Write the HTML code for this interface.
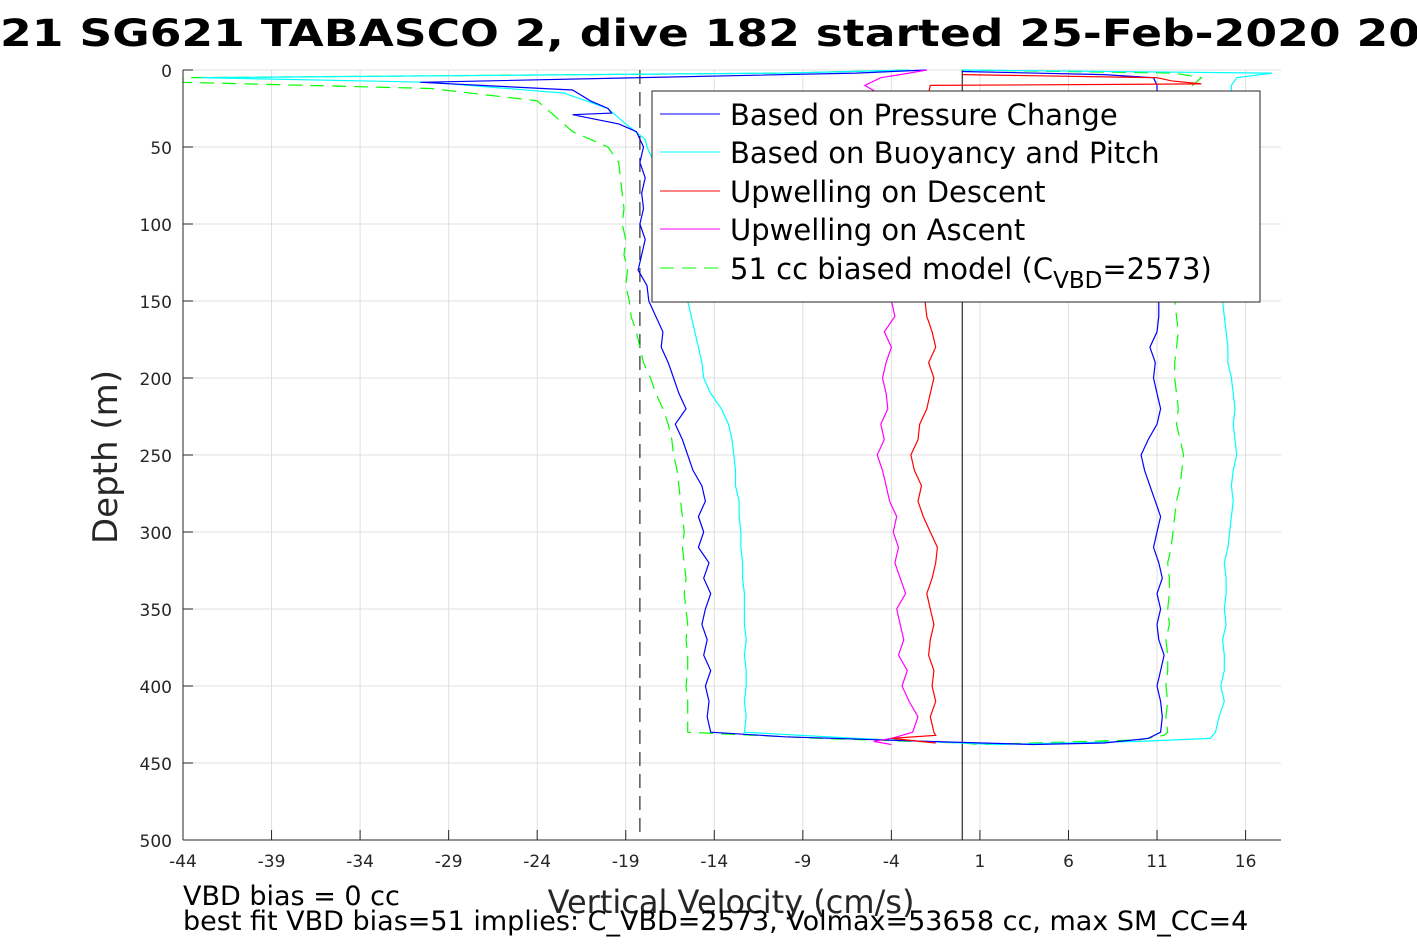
<!DOCTYPE html>
<html><head><meta charset="utf-8"><style>
body{margin:0;background:#fff;width:1417px;height:945px;overflow:hidden}
svg{font-family:"DejaVu Sans","Liberation Sans",sans-serif}
</style></head><body>
<svg id="chart" width="1417" height="945" viewBox="0 0 1417 945" xmlns="http://www.w3.org/2000/svg">
<text x="0" y="46" font-size="37" font-weight="bold" textLength="1420" lengthAdjust="spacingAndGlyphs">21 SG621 TABASCO 2, dive 182 started 25-Feb-2020 20</text>
<rect x="183" y="70" width="1098" height="770" fill="#fff"/>
<g id="grid"></g>
<g id="series"></g>
<g id="axes"></g>
<text transform="translate(117,457) rotate(-90)" text-anchor="middle" font-size="34" fill="#262626">Depth (m)</text>
<text x="731" y="913" text-anchor="middle" font-size="32" fill="#262626">Vertical Velocity (cm/s)</text>
<text x="183" y="905" font-size="27" fill="#000">VBD bias = 0 cc</text>
<text x="183" y="930" font-size="27" fill="#000">best fit VBD bias=51 implies: C_VBD=2573, Volmax=53658 cc, max SM_CC=4</text>
<g>
<rect x="652" y="91" width="608" height="211" fill="#fff" stroke="#262626" stroke-width="1"/>
<line x1="660" y1="114" x2="720" y2="114" stroke="#0000ff"/>
<text x="730" y="125" font-size="29">Based on Pressure Change</text>
<line x1="660" y1="152" x2="720" y2="152" stroke="#00ffff"/>
<text x="730" y="163" font-size="29">Based on Buoyancy and Pitch</text>
<line x1="660" y1="191" x2="720" y2="191" stroke="#ff0000"/>
<text x="730" y="202" font-size="29">Upwelling on Descent</text>
<line x1="660" y1="229" x2="720" y2="229" stroke="#ff00ff"/>
<text x="730" y="240" font-size="29">Upwelling on Ascent</text>
<line x1="660" y1="268" x2="720" y2="268" stroke="#00ff00" stroke-dasharray="14,8"/>
<text x="730" y="279" font-size="29">51 cc biased model (C<tspan font-size="23" dy="9">VBD</tspan><tspan dy="-9">=2573)</tspan></text>
</g>
</svg>
<script>
const xTicks=[-44,-39,-34,-29,-24,-19,-14,-9,-4,1,6,11,16];
const yTicks=[0,50,100,150,200,250,300,350,400,450,500];
const body=[];for(let d=50;d<=430;d+=10)body.push(d);
const bodyAsc=[];for(let d=430;d>=150;d-=10)bodyAsc.push(d);
const blueDesc=[-18,-18.2,-17.9,-18.1,-18,-18.2,-17.9,-18.1,-18.3,-17.8,-17.7,-17.3,-16.9,-17,-16.6,-16.3,-16,-15.6,-16.2,-15.8,-15.5,-15.2,-14.7,-14.5,-14.9,-14.6,-14.9,-14.3,-14.6,-14.2,-14.5,-14.7,-14.4,-14.6,-14.2,-14.5,-14.3,-14.4,-14.2];
const cyanDesc=[-17.8,-17.4,-17.2,-17,-16.8,-16.6,-16.3,-16,-15.8,-15.6,-15.5,-15.3,-15.1,-14.9,-14.7,-14.6,-14.2,-13.6,-13.2,-13,-12.9,-12.8,-12.8,-12.6,-12.6,-12.5,-12.5,-12.4,-12.4,-12.3,-12.3,-12.3,-12.2,-12.3,-12.2,-12.2,-12.3,-12.2,-12.3];
const greenDesc=[-20,-19.4,-19.3,-19.2,-19.1,-19.2,-19,-19.1,-18.9,-19,-18.8,-18.7,-18.4,-18.2,-18,-17.6,-17.3,-16.9,-16.6,-16.4,-16.3,-16.1,-16,-15.9,-15.8,-15.7,-15.8,-15.7,-15.6,-15.7,-15.6,-15.5,-15.6,-15.5,-15.5,-15.6,-15.5,-15.5,-15.5];
const blueAsc=[11.2,11.3,11.2,11,11.2,11.4,11.1,11,11.2,11,11.3,11.1,10.8,11,11.2,10.9,10.6,10.3,10.1,10.5,11,11.2,11,10.8,10.9,10.6,11,11.1,11.1];
const cyanAsc=[14.3,14.5,14.8,14.6,14.8,14.8,14.7,14.9,14.8,14.9,14.9,14.8,15,15.1,15.2,15.3,15.2,15.3,15.5,15.4,15.3,15.4,15.3,15.2,15,15,14.9,14.8,14.7];
const greenAsc=[11.6,11.5,11.6,11.5,11.6,11.6,11.5,11.7,11.6,11.7,11.7,11.6,11.8,11.9,12,12.1,12.3,12.4,12.5,12.3,12.1,12.2,12.1,12,12,12.1,12.2,12.1,12];
const magentaVals=[-2.8,-2.5,-3,-3.4,-3.1,-3.6,-3.3,-3.5,-3.7,-3.2,-3.5,-3.8,-3.6,-3.9,-3.7,-4.1,-4.3,-4.5,-4.8,-4.4,-4.6,-4.2,-4.3,-4.5,-4.3,-4,-4.4,-3.8,-4];
const redVals=[-1.6,-1.8,-1.5,-1.7,-1.6,-1.9,-1.8,-1.6,-1.8,-2,-1.7,-1.5,-1.4,-1.8,-2.2,-2.5,-2.3,-2.7,-2.9,-2.5,-2.4,-2,-1.8,-1.6,-1.9,-1.5,-1.7,-2,-2.1];
const blueTopD=[0,2,8,13,20,25,28,29,35,40],blueTopV=[-2,-6,-30.6,-22,-21,-20,-19.8,-22,-19.4,-18.4];
const cyanTopD=[0,2,5,8,15,25,35,45],cyanTopV=[-3,-10,-43,-30,-22.5,-20,-19,-17.9];
const greenTopD=[0,2,5,8,12,20,30,40],greenTopV=[-3,-10,-44,-44,-30,-24,-23,-22];
const blueBotD=[433,436,438,437,434],blueBotV=[-10,-2,4,8,10.5];
const cyanBotD=[434,437,438,436,434],cyanBotV=[-6,0,2,10,14];
const greenBotD=[434,437,438,435,432],greenBotV=[-8,0,1,10,11.4];
const blueEndD=[100,50,20,10,5,3,1],blueEndV=[11,11,11,11,10.8,8,0];
const cyanEndD=[100,50,20,10,5,2,0],cyanEndV=[15,15,15.2,15.2,15.5,17.5,0];
const greenEndD=[100,50,20,10,5,2,0],greenEndV=[12,12.5,12.8,13,13.5,12,0];
const magBotD=[438,436,434],magBotV=[-4,-5,-4];
const magTopD=[100,20,10,5,2,0],magTopV=[-4,-4,-5.5,-4.6,-3,-2];
const redBotD=[437,434,432],redBotV=[-1.5,-4,-1.5];
const redTopD=[100,20,10,9,7,5,3],redTopV=[-2,-2,-1.8,13.5,11.8,11,0];

const X0=183,X1=1281,Y0=70,Y1=840;
const xs=v=>X0+(v+44)*(X1-X0)/62;
const ys=d=>Y0+(d)*(Y1-Y0)/500;
const NS='http://www.w3.org/2000/svg';
const mk=(t,a,p)=>{const e=document.createElementNS(NS,t);for(const k in a)e.setAttribute(k,a[k]);p.appendChild(e);return e;};
const grid=document.getElementById('grid'),axes=document.getElementById('axes'),ser=document.getElementById('series');
xTicks.forEach(t=>{
  const l=mk('line',{x1:xs(t),x2:xs(t),y1:Y0,y2:Y1,stroke:'#dfdfdf'},grid);
  
  
  const tk=mk('line',{x1:xs(t),x2:xs(t),y1:Y1,y2:Y1-10,stroke:'#262626'},axes);
  
  
  const tx=mk('text',{x:xs(t),y:Y1+27,'text-anchor':'middle','font-size':17,fill:'#262626'},axes);
  tx.textContent=t;
  
  
});
yTicks.forEach(t=>{
  const l=mk('line',{x1:X0,x2:X1,y1:ys(t),y2:ys(t),stroke:'#dfdfdf'},grid);
  
  
  const tk=mk('line',{x1:X0,x2:X0+10,y1:ys(t),y2:ys(t),stroke:'#262626'},axes);
  
  
  const tx=mk('text',{x:X0-11,y:ys(t)+7,'text-anchor':'end','font-size':17,fill:'#262626'},axes);
  tx.textContent=t;
  
  
});
const xa=mk('line',{x1:X0,x2:X1,y1:Y1,y2:Y1,stroke:'#262626'},axes);


const ya=mk('line',{x1:X0,x2:X0,y1:Y0,y2:Y1,stroke:'#262626'},axes);


const zl=mk('line',{x1:xs(0),x2:xs(0),y1:Y0,y2:Y1,stroke:'#000'},ser);


const sl=mk('line',{x1:xs(-18.2),x2:xs(-18.2),y1:Y0,y2:Y1,stroke:'#000','stroke-dasharray':'14,8'},ser);


function draw(D,V,col,name,dash){
  const p=D.map((d,i)=>(i?'L':'M')+xs(V[i]).toFixed(1)+','+ys(d).toFixed(1)).join('');
  const e=mk('path',{d:p,fill:'none',stroke:col,'stroke-width':1.2},ser);
  if(dash)e.setAttribute('stroke-dasharray',dash);
  
  
}
draw([...greenTopD,...body,...greenBotD,...bodyAsc,...greenEndD],[...greenTopV,...greenDesc,...greenBotV,...greenAsc,...greenEndV],'#00ff00','model-line','14,8');
draw([...cyanTopD,...body,...cyanBotD,...bodyAsc,...cyanEndD],[...cyanTopV,...cyanDesc,...cyanBotV,...cyanAsc,...cyanEndV],'#00ffff','buoyancy-pitch-line');
draw([...blueTopD,...body,...blueBotD,...bodyAsc,...blueEndD],[...blueTopV,...blueDesc,...blueBotV,...blueAsc,...blueEndV],'#0000ff','pressure-change-line');
draw([...magBotD,...bodyAsc,...magTopD],[...magBotV,...magentaVals,...magTopV],'#ff00ff','upwelling-ascent-line');
draw([...redTopD.slice().reverse(),...bodyAsc.slice().reverse(),...redBotD.slice().reverse()],[...redTopV.slice().reverse(),...redVals.slice().reverse(),...redBotV.slice().reverse()],'#ff0000','upwelling-descent-line');
</script>
</body></html>
